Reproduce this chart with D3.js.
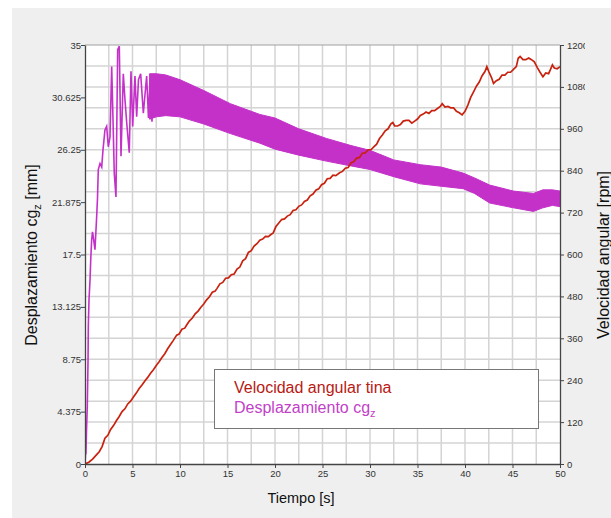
<!DOCTYPE html>
<html>
<head>
<meta charset="utf-8">
<script src="https://cdn.jsdelivr.net/npm/d3@7"></script>
<style>
  body { margin: 0; background: #fff; }
  svg { display: block; font-family: "Liberation Sans", Arial, sans-serif; }
</style>
</head>
<body>
<svg id="chart"></svg>
<script>
// tick values
var timeTicks = [0, 5, 10, 15, 20, 25, 30, 35, 40, 45, 50]
var mmTicks = [0, 4.375, 8.75, 13.125, 17.5, 21.875, 26.25, 30.625, 35]
var mmTickLabels = ["0", "4.375", "8.75", "13.125", "17.5", "21.875", "26.25", "30.625", "35"]
var rpmTicks = [0, 120, 240, 360, 480, 600, 720, 840, 960, 1080, 1200]

// Velocidad angular tina [rpm]
var velTime = [0, 0.4, 0.8, 1.2, 1.5, 1.8, 2.1, 2.4, 2.7, 3.0, 3.3, 3.6, 3.9, 4.2, 4.5, 4.8, 5.1, 5.4, 5.7, 6.0,
  6.3, 6.6, 6.9, 7.2, 7.5, 7.8, 8.1, 8.4, 8.7, 9.0, 9.3, 9.65, 9.9, 10.2, 10.5, 10.7, 11.0, 11.3, 11.6, 11.9,
  12.2, 12.5, 12.8, 13.1, 13.4, 13.7, 13.9, 14.2, 14.5, 14.8, 15.1, 15.4, 15.7, 16.0, 16.3, 16.6, 16.9, 17.2, 17.5, 17.8,
  18.1, 18.4, 18.7, 19.0, 19.3, 19.6, 19.8, 20.1, 20.4, 20.7, 21.0, 21.3, 21.6, 21.9, 22.2, 22.5, 22.8, 23.1, 23.4, 23.7,
  24.0, 24.3, 24.6, 24.9, 25.2, 25.5, 25.8, 26.1, 26.4, 26.8, 27.1, 27.4, 27.7, 28.0, 28.3, 28.6, 28.9, 29.2, 29.5, 29.8,
  30.1, 30.4, 30.7, 31.0, 31.3, 31.6, 31.9, 32.2, 32.4, 32.6, 32.9, 33.2, 33.5, 33.8, 34.1, 34.4, 34.7, 35.0, 35.3, 35.6,
  35.9, 36.2, 36.5, 36.8, 37.1, 37.4, 37.6, 37.9, 38.2, 38.5, 38.8, 39.1, 39.4, 39.7, 40.0, 40.3, 40.6, 40.9, 41.2, 41.5,
  41.8, 42.1, 42.3, 42.5, 42.8, 43.0, 43.3, 43.6, 43.9, 44.2, 44.5, 44.8, 45.1, 45.4, 45.6, 45.8, 46.1, 46.4, 46.7, 47.0,
  47.3, 47.6, 47.9, 48.2, 48.5, 48.8, 49.0, 49.2, 49.4, 49.7, 50]
var velRpm = [0, 5, 14, 26, 35, 50, 74, 82, 99, 110, 124, 136, 150, 158, 172, 180, 192, 203, 216, 226,
  238, 248, 260, 270, 282, 293, 305, 316, 330, 342, 354, 369, 372, 386, 389, 398, 410, 418, 430, 438,
  449, 458, 470, 479, 492, 495, 503, 516, 520, 532, 533, 542, 544, 558, 564, 582, 588, 606, 611, 624,
  631, 641, 644, 652, 651, 658, 661, 680, 690, 700, 702, 710, 714, 726, 728, 738, 742, 752, 756, 768,
  773, 784, 788, 800, 804, 817, 818, 827, 826, 834, 838, 847, 849, 862, 866, 876, 878, 890, 891, 900,
  900, 908, 916, 932, 942, 954, 960, 974, 978, 968, 968, 972, 982, 984, 984, 976, 982, 988, 998, 1002,
  1008, 1004, 1012, 1012, 1018, 1024, 1032, 1022, 1024, 1020, 1020, 1010, 1006, 1000, 1010, 1028, 1050, 1066, 1082, 1094,
  1112, 1124, 1138, 1124, 1106, 1090, 1098, 1102, 1114, 1114, 1122, 1122, 1130, 1138, 1162, 1167, 1158, 1158, 1163, 1158,
  1152, 1136, 1122, 1109, 1120, 1118, 1130, 1143, 1134, 1132, 1138]

// Desplazamiento cg_z [mm], start-up oscillation
var dispTime = [0, 0.05, 0.1, 0.16, 0.24, 0.32, 0.35, 0.42, 0.53, 0.6, 0.7, 0.79, 0.87, 1.05, 1.23, 1.31, 1.4, 1.58, 1.76, 1.89,
  2.1, 2.28, 2.45, 2.63, 2.81, 2.95, 3.08, 3.26, 3.44, 3.61, 3.79, 4.03, 4.21, 4.39, 4.66, 4.84, 5.02, 5.26, 5.44, 5.63,
  5.86, 6.14, 6.49, 6.68, 6.84, 7.05, 7.26]
var dispMm = [0, 0.75, 0.9, 2.8, 4.8, 8.7, 11.5, 13.7, 15.4, 17.0, 18.7, 19.4, 19.0, 17.9, 20.7, 22.1, 24.6, 25.1, 24.8, 26.2,
  27.9, 28.2, 26.5, 27.3, 33.2, 28.7, 24.3, 22.3, 34.6, 34.9, 25.7, 32.6, 30.4, 28.5, 26.0, 32.8, 28.2, 32.4, 29.0, 32.1,
  32.6, 29.3, 32.4, 28.9, 32.2, 28.6, 32.1]

// Desplazamiento cg_z [mm], envelope of the fast oscillation afterwards
var bandTime = [6.8, 7.5, 8.5, 10, 12.5, 15.3, 18.4, 20, 22.5, 25.4, 28, 30, 32.5, 35.3, 37.5, 39.8, 41, 42.6, 45.1, 47.2, 48.2, 49.2, 50]
var bandUpper = [32.6, 32.6, 32.5, 32.1, 31.2, 30.1, 29.2, 28.9, 28.0, 27.2, 26.6, 26.2, 25.4, 25.0, 24.8, 24.3, 23.9, 23.3, 22.8, 22.6, 22.9, 22.9, 22.8]
var bandLower = [28.8, 29.0, 29.1, 29.0, 28.4, 27.6, 26.8, 26.3, 25.8, 25.3, 24.9, 24.6, 24.0, 23.4, 23.2, 23.0, 22.6, 21.8, 21.4, 21.1, 21.4, 21.6, 21.5]

var red = "#c8220e"
var magenta = "#c431c9"

var plot = { left: 85, right: 560, top: 45, bottom: 464 }

var svg = d3.select("#chart")
  .attr("width", 611)
  .attr("height", 518)

svg.append("rect").attr("x", 12).attr("y", 8).attr("width", 599).attr("height", 510).attr("fill", "#efefef")
svg.append("rect")
  .attr("x", plot.left).attr("y", plot.top)
  .attr("width", plot.right - plot.left).attr("height", plot.bottom - plot.top)
  .attr("fill", "#fff")

var x = d3.scaleLinear().domain([0, 50]).range([plot.left, plot.right])
var yMm = d3.scaleLinear().domain([0, 35]).range([plot.bottom, plot.top])
var yRpm = d3.scaleLinear().domain([0, 1200]).range([plot.bottom, plot.top])

// grid, every half tick
var grid = svg.append("g").attr("stroke", "#d4d4d4").attr("stroke-width", 1.5)
grid.selectAll(".gx").data(d3.range(2.5, 50, 2.5)).enter().append("line")
  .attr("x1", d => x(d)).attr("x2", d => x(d))
  .attr("y1", plot.top).attr("y2", plot.bottom)
grid.selectAll(".gy").data(d3.range(60, 1200, 60)).enter().append("line")
  .attr("y1", d => yRpm(d)).attr("y2", d => yRpm(d))
  .attr("x1", plot.left).attr("x2", plot.right)

svg.append("line").attr("x1", plot.left).attr("x2", plot.right)
  .attr("y1", plot.top).attr("y2", plot.top).attr("stroke", "#a0a0a0")

svg.append("clipPath").attr("id", "plotClip").append("rect")
  .attr("x", plot.left).attr("y", plot.top)
  .attr("width", plot.right - plot.left).attr("height", plot.bottom - plot.top)

var lines = svg.append("g").attr("clip-path", "url(#plotClip)")

var band = bandTime.map((t, i) => ({ t: t, hi: bandUpper[i], lo: bandLower[i] }))
lines.append("path")
  .attr("d", d3.area().x(d => x(d.t)).y0(d => yMm(d.lo)).y1(d => yMm(d.hi))(band))
  .attr("fill", magenta)
  .attr("stroke", magenta)
  .attr("stroke-width", 1)

var disp = dispTime.map((t, i) => [t, dispMm[i]])
lines.append("path")
  .attr("d", d3.line().x(d => x(d[0])).y(d => yMm(d[1]))(disp))
  .attr("fill", "none")
  .attr("stroke", magenta)
  .attr("stroke-width", 1.6)

var vel = velTime.map((t, i) => [t, velRpm[i]])
lines.append("path")
  .attr("d", d3.line().x(d => x(d[0])).y(d => yRpm(d[1]))(vel))
  .attr("fill", "none")
  .attr("stroke", red)
  .attr("stroke-width", 1.7)

// axes
var axisBottom = svg.append("g")
  .attr("transform", "translate(0," + plot.bottom + ")")
  .call(d3.axisBottom(x).tickValues(timeTicks).tickSize(4).tickPadding(2).tickSizeOuter(0))
var axisLeft = svg.append("g")
  .attr("transform", "translate(" + plot.left + ",0)")
  .call(d3.axisLeft(yMm).tickValues(mmTicks).tickFormat((d, i) => mmTickLabels[i]).tickSize(4).tickPadding(0).tickSizeOuter(0))

// the right labels are cut by the chart frame in the original
svg.append("clipPath").attr("id", "rightClip").append("rect")
  .attr("x", 0).attr("y", 0).attr("width", 585).attr("height", 518)
var axisRight = svg.append("g")
  .attr("clip-path", "url(#rightClip)")
  .append("g")
  .attr("transform", "translate(" + plot.right + ",0)")
  .call(d3.axisRight(yRpm).tickValues(rpmTicks).tickFormat(d3.format("d")).tickSize(4).tickPadding(3).tickSizeOuter(0))

;[axisBottom, axisLeft, axisRight].forEach(function (a) {
  a.select(".domain").attr("stroke", "#444").attr("stroke-width", 1.3)
  a.selectAll(".tick line").attr("stroke", "#444")
  a.selectAll(".tick text").attr("fill", "#333").style("font-size", "9.5px")
    .style("font-family", "'Liberation Sans', Arial, sans-serif")
})

// axis titles
svg.append("text")
  .attr("x", 301).attr("y", 503)
  .attr("text-anchor", "middle")
  .style("font-size", "14.5px")
  .attr("fill", "#111")
  .text("Tiempo [s]")

var leftTitle = svg.append("text")
  .attr("transform", "translate(37,255) rotate(-90)")
  .attr("text-anchor", "middle")
  .style("font-size", "16px")
  .attr("fill", "#111")
leftTitle.append("tspan").text("Desplazamiento cg")
leftTitle.append("tspan").attr("dy", 4).style("font-size", "11px").text("z")
leftTitle.append("tspan").attr("dy", -4).text(" [mm]")

svg.append("text")
  .attr("transform", "translate(609,255) rotate(-90)")
  .attr("text-anchor", "middle")
  .style("font-size", "16px")
  .attr("fill", "#111")
  .text("Velocidad angular [rpm]")

// legend
svg.append("rect")
  .attr("x", 214.5).attr("y", 369.5).attr("width", 324).attr("height", 59)
  .attr("fill", "#fff").attr("stroke", "#777")
svg.append("text")
  .attr("x", 234).attr("y", 393)
  .style("font-size", "16px")
  .attr("fill", "#b81a14")
  .text("Velocidad angular tina")
var legDisp = svg.append("text")
  .attr("x", 234).attr("y", 413)
  .style("font-size", "16px")
  .attr("fill", "#c23fc8")
legDisp.append("tspan").text("Desplazamiento cg")
legDisp.append("tspan").attr("dy", 4).style("font-size", "11px").text("z")
</script>
</body>
</html>
